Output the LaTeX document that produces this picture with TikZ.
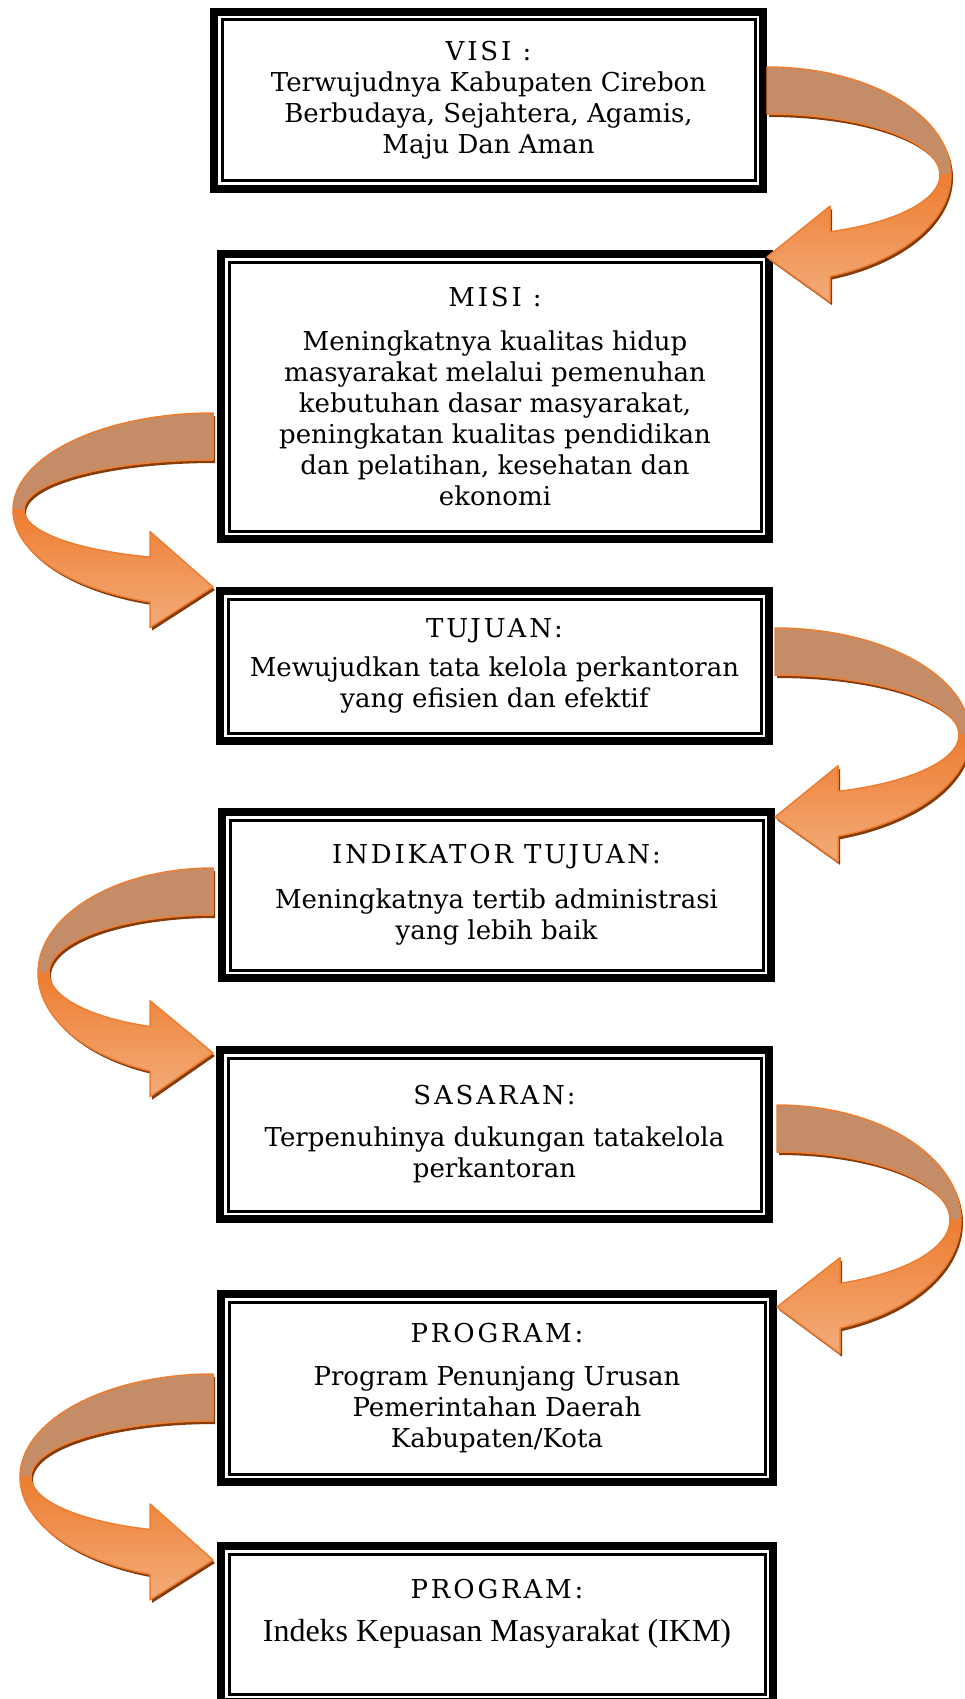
\documentclass[tikz,border=0pt]{standalone}
\usepackage{fontspec}
\setmainfont{DejaVu Serif}
\newfontfamily\ikmfont{Liberation Serif}
\newcommand{\hd}[1]{{\addfontfeatures{LetterSpace=11}#1}}
\definecolor{backband}{RGB}{196,141,104}
\definecolor{frontA}{RGB}{237,125,49}
\definecolor{frontB}{RGB}{243,172,122}
\definecolor{arrowline}{RGB}{237,125,49}
\definecolor{arrowshadow}{RGB}{132,60,12}
\tikzset{
  box/.style={draw, line width=8pt, inner sep=0pt, align=center,
    font=\fontsize{26}{31}\selectfont},
  innerline/.style={line width=3pt},
  band/.style={draw=arrowline, line width=1.5pt, line join=round,
    preaction={fill=arrowshadow, transform canvas={shift={(2pt,-3pt)}}}},
}
\begin{document}
\begin{tikzpicture}[x=1pt, y=-1pt]
\useasboundingbox (0,0) rectangle (965,1699);
\clip (0,0) rectangle (965,1699);

\node[box, minimum width=549pt, minimum height=177pt] (visi) at (488.5,100.5)
  {\hd{VISI :}\\ Terwujudnya Kabupaten Cirebon\\ Berbudaya, Sejahtera, Agamis,\\ Maju Dan Aman};
\node[box, minimum width=548pt, minimum height=285pt] (misi) at (495,396.5)
  {\hd{MISI :}\\[13pt] Meningkatnya kualitas hidup\\ masyarakat melalui pemenuhan\\ kebutuhan dasar masyarakat,\\ peningkatan kualitas pendidikan\\ dan pelatihan, kesehatan dan\\ ekonomi};
\node[box, minimum width=549pt, minimum height=150pt] (tujuan) at (494.5,666)
  {\hd{TUJUAN:}\\[8pt] Mewujudkan tata kelola perkantoran\\ yang efisien dan efektif};
\node[box, minimum width=549pt, minimum height=166pt] (indikator) at (496.5,895)
  {\hd{INDIKATOR TUJUAN:}\\[14pt] Meningkatnya tertib administrasi\\ yang lebih baik};
\node[box, minimum width=549pt, minimum height=169pt] (sasaran) at (494.5,1134.5)
  {\hd{SASARAN:}\\[11pt] Terpenuhinya dukungan tatakelola\\ perkantoran};
\node[box, minimum width=552pt, minimum height=188pt] (program) at (497,1388)
  {\hd{PROGRAM:}\\[12pt] Program Penunjang Urusan\\ Pemerintahan Daerah\\ Kabupaten/Kota};
\node[box, minimum width=552pt, minimum height=156pt] (ikm) at (497,1624)
  {\hd{PROGRAM:}\\[12pt] {\ikmfont\fontsize{32}{31}\selectfont Indeks Kepuasan Masyarakat (IKM)}\\[-3pt]\mbox{}};

% thin inner frame of every box
\foreach \n in {visi,misi,tujuan,indikator,sasaran,program,ikm}
  \draw[innerline] ([xshift=12pt,yshift=-12pt]\n.north west) rectangle ([xshift=-12pt,yshift=12pt]\n.south east);

% curved arrows: target corner / offset / side / centre y / radius y / radius x
\foreach \tgt/\dx/\dy/\side/\cy/\ry/\rx in {
    misi.north east/-6/7/1/-82/108/184,
    tujuan.north west/-3/0/-1/-77/97/200,
    indikator.north east/0/9/1/-82/107/195,
    sasaran.north west/-3/7/-1/-80/105/175,
    program.north east/0/17/1/-87/115/184,
    ikm.north west/-4/18/-1/-83/103/193}{
  \pgfmathsetmacro\ryi{\ry-47}
  \pgfmathsetmacro\rxi{\rx-11}
  \pgfmathsetmacro\tho{acos(63/\rx)}
  \pgfmathsetmacro\thi{acos(63/\rxi)}
  \pgfmathsetmacro\yo{\cy+\ry*sin(\tho)}
  \pgfmathsetmacro\yi{\cy+\ryi*sin(\thi)}
  \pgfmathsetmacro\yb{(\yo+\yi)/2}
  \begin{scope}[shift={(\tgt)}, shift={(\dx,\dy)}, xscale=\side]
    % back of the band
    \path[band, fill=backband]
      plot[variable=\ang, domain=-90:0, samples=30] ({\rx*cos(\ang)}, {\cy+\ry*sin(\ang)})
      -- plot[variable=\ang, domain=0:-90, samples=30] ({\rxi*cos(\ang)}, {\cy+\ryi*sin(\ang)}) -- cycle;
    % front of the band and the head
    \path[band, top color=frontA, bottom color=frontB]
      plot[variable=\ang, domain=0:\tho, samples=30] ({\rx*cos(\ang)}, {\cy+\ry*sin(\ang)})
      -- (63,\yb+48) -- (0,0) -- (63,\yb-48) -- (63,\yi)
      -- plot[variable=\ang, domain=\thi:0, samples=30] ({\rxi*cos(\ang)}, {\cy+\ryi*sin(\ang)}) -- cycle;
  \end{scope}
}
\end{tikzpicture}
\end{document}
